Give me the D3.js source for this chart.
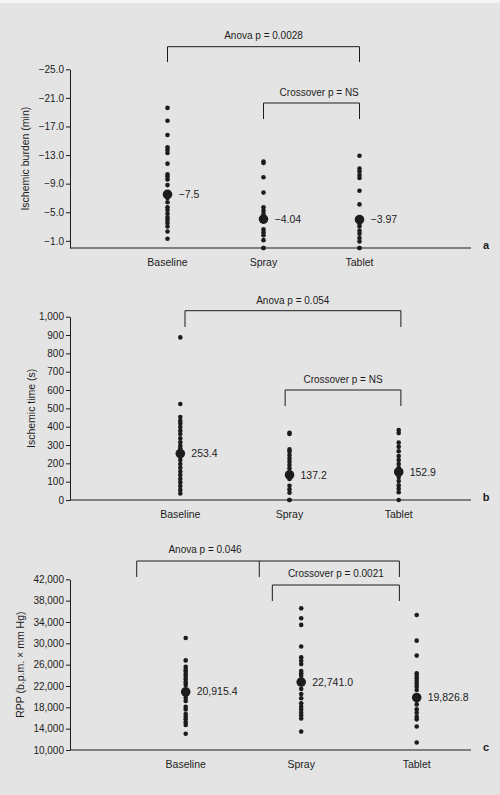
<!DOCTYPE html>
<html>
<head>
<meta charset="utf-8">
<script src="https://cdn.jsdelivr.net/npm/d3@7"></script>
<style>
  html, body { margin: 0; padding: 0; background: #e4e4e4; }
  svg { display: block; font-family: "Liberation Sans", Arial, sans-serif; }
</style>
</head>
<body>
<div id="chart"></div>
<script>
// Categories (shared by all three panels)
const categories = ["Baseline", "Spray", "Tablet"];

// Panel a: ischemic burden (min)
const burdenBaseline = [-19.6, -17.8, -15.8, -14.1, -13.7, -13.3, -11.8, -10.3, -10.0, -9.6, -8.8, -7.0,
  -6.4, -5.7, -5.3, -4.8, -4.3, -3.9, -3.5, -3.0, -2.3, -1.3];
const burdenSpray = [-12.1, -11.9, -9.9, -7.75, -5.7, -5.2, -4.8, -2.6, -2.2, -1.8, -1.1, 0, 0];
const burdenTablet = [-12.9, -11.1, -10.7, -10.2, -9.8, -8.0, -6.1, -3.4, -3.0, -2.4, -2.0, -1.4, -0.9, 0, 0];
const burdenMeans = [-7.5, -4.04, -3.97];
const burdenMeanLabels = ["\u22127.5", "\u22124.04", "\u22123.97"];
const burdenTicks = [-25, -21, -17, -13, -9, -5, -1];

// Panel b: ischemic time (s)
const timeBaseline = [887, 524, 453, 433, 418, 398, 378, 360, 336, 315, 296, 282, 236, 218, 196, 176,
  155, 136, 115, 96, 76, 55, 36];
const timeSpray = [367, 360, 276, 264, 245, 227, 209, 191, 173, 115, 78, 58, 40, 0, 0];
const timeTablet = [382, 365, 313, 290, 266, 240, 218, 196, 176, 125, 103, 80, 62, 42, 0];
const timeMeans = [253.4, 137.2, 152.9];
const timeMeanLabels = ["253.4", "137.2", "152.9"];
const timeTicks = [0, 100, 200, 300, 400, 500, 600, 700, 800, 900, 1000];

// Panel c: RPP (b.p.m. x mm Hg)
const rppBaseline = [31000, 26800, 25600, 25100, 24700, 24200, 23700, 23200, 22700, 22200, 20300, 19800,
  19200, 18100, 17600, 16750, 16250, 15750, 15200, 14700, 13050];
const rppSpray = [36550, 34700, 33450, 29400, 27400, 26750, 26100, 24800, 24400, 23900, 22400, 21450,
  20500, 19700, 18750, 18100, 17600, 17000, 16450, 15900, 13450];
const rppTablet = [35300, 30500, 27700, 24400, 23900, 23450, 22950, 22400, 21900, 21250, 19400, 18550,
  17650, 17000, 16250, 15750, 14400, 11400];
const rppMeans = [20915.4, 22741.0, 19826.8];
const rppMeanLabels = ["20,915.4", "22,741.0", "19,826.8"];
const rppTicks = [10000, 14000, 18000, 22000, 26000, 30000, 34000, 38000, 42000];

const width = 500;
const height = 795;
const axisX = 70;
const axisEnd = 471;
const ink = "#1c1c1c";

const svg = d3.select("#chart")
  .append("svg")
  .attr("width", width)
  .attr("height", height);

// pale strip along the top edge of the scan
svg.append("rect")
  .attr("width", width).attr("height", 3)
  .attr("fill", "#f4f4f4");

const fmtBurden = d => "\u2212" + Math.abs(d).toFixed(1);
const fmtComma = d3.format(",");

// layout of each panel (pixels) and bracket positions in category-index units
const panels = [
  {
    series: [burdenBaseline, burdenSpray, burdenTablet], means: burdenMeans, meanLabels: burdenMeanLabels,
    ticks: burdenTicks, format: fmtBurden, domain: [0, -25], yRange: [248, 69.3],
    xRange: [167.5, 359.5], label: "Ischemic burden (min)", labelX: 25, letter: "a",
    brackets: [
      { ends: [0, 2], y: 46.7, drop: 62, text: "Anova p = 0.0028", tx: 1.0, ty: 35 },
      { ends: [1, 2], y: 103, drop: 119, text: "Crossover p = NS", tx: 1.58, ty: 92 }
    ]
  },
  {
    series: [timeBaseline, timeSpray, timeTablet], means: timeMeans, meanLabels: timeMeanLabels,
    ticks: timeTicks, format: fmtComma, domain: [0, 1000], yRange: [500, 316.7],
    xRange: [180.3, 398.7], label: "Ischemic time (s)", labelX: 31, letter: "b",
    brackets: [
      { ends: [0.043, 2.02], y: 310.7, drop: 327, text: "Anova p = 0.054", tx: 1.03, ty: 300 },
      { ends: [0.96, 2.02], y: 390, drop: 406, text: "Crossover p = NS", tx: 1.49, ty: 379.3 }
    ]
  },
  {
    series: [rppBaseline, rppSpray, rppTablet], means: rppMeans, meanLabels: rppMeanLabels,
    ticks: rppTicks, format: fmtComma, domain: [10000, 42000], yRange: [750, 579.3],
    xRange: [185.7, 416.7], label: "RPP (b.p.m. \u00d7 mm Hg)", labelX: 20, letter: "c",
    brackets: [
      { ends: [-0.424, 0.637, 1.85], y: 561, drop: 577, text: "Anova p = 0.046", tx: 0.167, ty: 549.3 },
      { ends: [0.75, 1.85], y: 585, drop: 601, text: "Crossover p = 0.0021", tx: 1.30, ty: 573.3 }
    ]
  }
];

panels.forEach(p => {
  const g = svg.append("g");
  const y = d3.scaleLinear().domain(p.domain).range(p.yRange);
  const x = d3.scaleLinear().domain([0, 2]).range(p.xRange);

  // y axis
  const yAxis = g.append("g")
    .attr("transform", `translate(${axisX},0)`)
    .call(d3.axisLeft(y).tickValues(p.ticks).tickFormat(p.format).tickSize(4).tickSizeOuter(0));
  yAxis.select(".domain").attr("stroke", ink).attr("stroke-width", 1);
  yAxis.selectAll(".tick line").attr("stroke", ink);
  yAxis.selectAll(".tick text")
    .attr("fill", ink)
    .attr("x", -6)
    .style("font-size", "10px")
    .style("font-family", "'Liberation Sans', Arial, sans-serif");

  // x axis line
  g.append("line")
    .attr("x1", axisX).attr("x2", axisEnd)
    .attr("y1", p.yRange[0]).attr("y2", p.yRange[0])
    .attr("stroke", ink).attr("stroke-width", 1.2);

  // y label
  g.append("text")
    .attr("transform", `translate(${p.labelX},${(p.yRange[0] + p.yRange[1]) / 2}) rotate(-90)`)
    .attr("text-anchor", "middle")
    .attr("dy", "0.35em")
    .attr("fill", ink)
    .style("font-size", "10.5px")
    .text(p.label);

  // category labels
  g.selectAll(".cat")
    .data(categories)
    .join("text")
    .attr("x", (d, i) => x(i))
    .attr("y", p.yRange[0] + 17.5)
    .attr("text-anchor", "middle")
    .attr("fill", ink)
    .style("font-size", "10.5px")
    .text(d => d);

  // panel letter
  g.append("text")
    .attr("x", 486)
    .attr("y", p.yRange[0] + 1)
    .attr("text-anchor", "middle")
    .attr("fill", ink)
    .style("font-size", "11px")
    .style("font-weight", "bold")
    .text(p.letter);

  // individual points
  p.series.forEach((vals, i) => {
    g.append("g")
      .selectAll("circle")
      .data(vals)
      .join("circle")
      .attr("cx", x(i))
      .attr("cy", d => y(d))
      .attr("r", 2.3)
      .attr("fill", ink);
  });

  // means
  g.selectAll(".mean")
    .data(p.means)
    .join("circle")
    .attr("cx", (d, i) => x(i))
    .attr("cy", d => y(d))
    .attr("r", 4.8)
    .attr("fill", ink);

  g.selectAll(".meanLabel")
    .data(p.means)
    .join("text")
    .attr("x", (d, i) => x(i) + 11)
    .attr("y", d => y(d))
    .attr("dy", "0.35em")
    .attr("fill", ink)
    .style("font-size", "10.5px")
    .text((d, i) => p.meanLabels[i]);

  // significance brackets
  p.brackets.forEach(b => {
    const xs = b.ends.map(x);
    g.append("line")
      .attr("x1", d3.min(xs)).attr("x2", d3.max(xs))
      .attr("y1", b.y).attr("y2", b.y)
      .attr("stroke", ink).attr("stroke-width", 1);
    xs.forEach(xv => {
      g.append("line")
        .attr("x1", xv).attr("x2", xv)
        .attr("y1", b.y).attr("y2", b.drop)
        .attr("stroke", ink).attr("stroke-width", 1);
    });
    g.append("text")
      .attr("x", x(b.tx))
      .attr("y", b.ty)
      .attr("dy", "0.35em")
      .attr("text-anchor", "middle")
      .attr("fill", ink)
      .style("font-size", "10px")
      .text(b.text);
  });
});
</script>
</body>
</html>
